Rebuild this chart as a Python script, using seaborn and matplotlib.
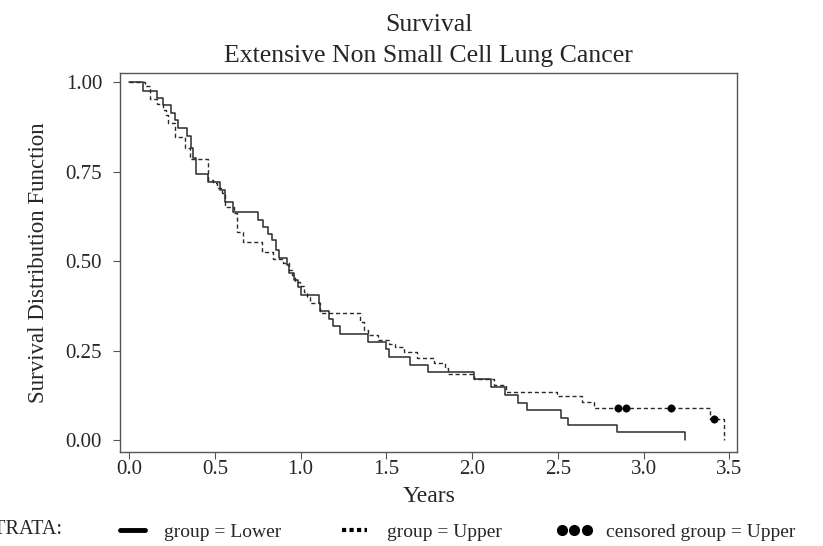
import matplotlib
matplotlib.use("Agg")
import matplotlib.pyplot as plt
from matplotlib.lines import Line2D
import seaborn as sns
import pandas as pd

# Kaplan-Meier estimates (years, survival after each step)
lower_time = [0.0, 0.078, 0.161, 0.2, 0.243, 0.27, 0.284, 0.34, 0.362, 0.375, 0.391,
              0.457, 0.531, 0.56, 0.605, 0.751, 0.78, 0.807, 0.832, 0.856, 0.871,
              0.92, 0.93, 0.959, 0.982, 1.0, 1.105, 1.114, 1.163, 1.19, 1.23, 1.39,
              1.5, 1.518, 1.64, 1.74, 2.01, 2.11, 2.19, 2.27, 2.32, 2.52, 2.56,
              2.845, 3.24]
lower_surv = [1.0, 0.976, 0.957, 0.936, 0.913, 0.894, 0.872, 0.85, 0.815, 0.787, 0.742,
              0.722, 0.698, 0.666, 0.638, 0.615, 0.596, 0.577, 0.559, 0.531, 0.508,
              0.489, 0.467, 0.447, 0.427, 0.404, 0.382, 0.36, 0.337, 0.318, 0.296, 0.275,
              0.254, 0.233, 0.21, 0.19, 0.17, 0.147, 0.126, 0.105, 0.085, 0.063, 0.042,
              0.023, 0.0]

upper_time = [0.0, 0.093, 0.119, 0.161, 0.195, 0.216, 0.224, 0.265, 0.327, 0.356, 0.457,
              0.488, 0.515, 0.54, 0.56, 0.613, 0.628, 0.663, 0.774, 0.836, 0.9, 0.935,
              0.95, 0.968, 0.994, 1.017, 1.037, 1.052, 1.11, 1.344, 1.367, 1.39, 1.45,
              1.513, 1.55, 1.6, 1.68, 1.775, 1.84, 1.86, 2.01, 2.125, 2.2, 2.495, 2.64,
              2.71, 3.39, 3.47]
upper_surv = [1.0, 0.99, 0.952, 0.938, 0.922, 0.908, 0.885, 0.847, 0.815, 0.784, 0.726,
              0.717, 0.703, 0.689, 0.652, 0.633, 0.582, 0.554, 0.526, 0.505, 0.494, 0.475,
              0.461, 0.442, 0.43, 0.414, 0.4, 0.384, 0.354, 0.33, 0.307, 0.293, 0.279,
              0.268, 0.259, 0.247, 0.228, 0.214, 0.2, 0.184, 0.172, 0.154, 0.135, 0.123,
              0.107, 0.09, 0.059, 0.0]

censor_time = [2.85, 2.90, 3.16, 3.41]
censor_surv = [0.09, 0.09, 0.09, 0.059]

x_ticks = [0.0, 0.5, 1.0, 1.5, 2.0, 2.5, 3.0, 3.5]
y_ticks = [0.0, 0.25, 0.5, 0.75, 1.0]

lower = pd.DataFrame({"time": lower_time, "surv": lower_surv})
upper = pd.DataFrame({"time": upper_time, "surv": upper_surv})
censored = pd.DataFrame({"time": censor_time, "surv": censor_surv})

sns.set_style("ticks")
plt.rcParams["font.family"] = ["Liberation Serif", "DejaVu Serif"]

ink = "#2b2b2b"
fig = plt.figure(figsize=(8.23, 5.46), dpi=100)
ax = fig.add_axes([0.146, 0.172, 0.750, 0.694])

sns.lineplot(data=lower, x="time", y="surv", ax=ax, color=ink, lw=1.1,
             drawstyle="steps-post", estimator=None)
sns.lineplot(data=upper, x="time", y="surv", ax=ax, color=ink, lw=1.0,
             linestyle=(0, (3, 2)), drawstyle="steps-post", estimator=None)
sns.scatterplot(data=censored, x="time", y="surv", ax=ax, color="black",
                s=28, edgecolor="black", zorder=5)

ax.set_xlim(-0.0525, 3.547)
ax.set_ylim(-0.0335, 1.025)
ax.set_xticks(x_ticks)
ax.set_xticklabels([f"{v:.1f}" for v in x_ticks])
ax.set_yticks(y_ticks)
ax.set_yticklabels([f"{v:.2f}" for v in y_ticks])
ax.tick_params(labelsize=15, length=5, width=0.8, color="#555555")
ax.tick_params(axis="x", pad=1)
ax.tick_params(axis="y", pad=8)
for s in ax.spines.values():
    s.set_color("#555555")
    s.set_linewidth(1.0)

ax.set_xlabel("Years", fontsize=17, labelpad=5)
ax.set_ylabel("Survival Distribution Function", fontsize=16.5, labelpad=12)
ax.set_title("Survival\nExtensive Non Small Cell Lung Cancer", fontsize=18.5,
             linespacing=1.55, pad=8)

# strata legend along the bottom
fig.text(0.076, 0.012, "STRATA:", fontsize=14.5, ha="right", va="bottom")
handles = [
    Line2D([], [], color="black", lw=3.5),
    Line2D([], [], color="black", lw=3, linestyle=(0, (1, 0.8))),
    Line2D([], [], color="black", marker="o", markersize=7, linestyle=""),
]
labels = ["group = Lower", "group = Upper", "censored group = Upper"]
fig.legend(handles, labels, loc="lower left", bbox_to_anchor=(0.117, -0.022),
           ncol=3, frameon=False, fontsize=14, handlelength=1.9,
           handletextpad=0.7, columnspacing=2.8, numpoints=3)

fig.savefig("out.png", dpi=100)
